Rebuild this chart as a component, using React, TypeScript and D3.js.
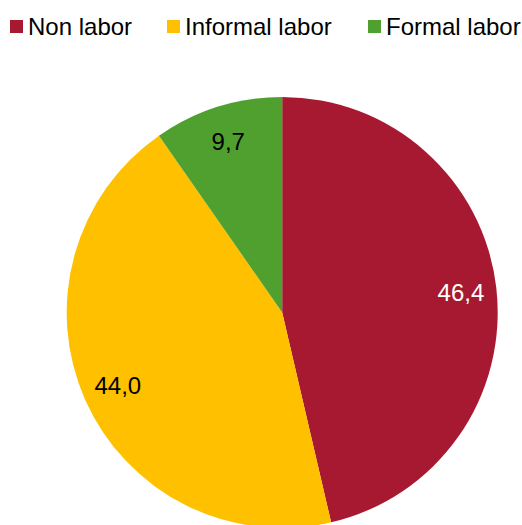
import React from "react";
import * as d3 from "d3";

const categories = ["Non labor", "Informal labor", "Formal labor"];
const values = [46.4, 44.0, 9.7];
const labels = ["46,4", "44,0", "9,7"];
const colors = ["#A71930", "#FFC000", "#50A030"];
const labelColors = ["#ffffff", "#000000", "#000000"];
const legendX = [10, 167, 368];

export default function App() {
  const W = 522, H = 525;
  const cx = 282.2, cy = 312.5, r = 215.5;
  const pie = d3.pie<number>().sort(null).value((d) => d);
  const arcs = pie(values);
  const arc = d3.arc<d3.PieArcDatum<number>>().innerRadius(0).outerRadius(r);
  const labelArc = d3.arc<d3.PieArcDatum<number>>().innerRadius(r * 0.835).outerRadius(r * 0.835);
  return (
    <svg width={W} height={H} style={{ position: "absolute", left: 0, top: 0, fontFamily: "'Liberation Sans', Arial, sans-serif" }}>
      <rect width={W} height={H} fill="#fff" />
      <g transform={`translate(${cx},${cy})`}>
        {arcs.map((a, i) => (
          <path key={i} d={arc(a) || ""} fill={colors[i]} />
        ))}
        {arcs.map((a, i) => {
          const [x, y] = labelArc.centroid(a);
          return (
            <text key={i} x={x} y={y + 8.7} textAnchor="middle" fontSize={24} fill={labelColors[i]}>
              {labels[i]}
            </text>
          );
        })}
      </g>
      {categories.map((c, i) => (
        <g key={c} transform={`translate(${legendX[i]},0)`}>
          <rect x={0} y={20} width={13} height={13} fill={colors[i]} />
          <text x={18} y={34.5} fontSize={24} fill="#000">{c}</text>
        </g>
      ))}
    </svg>
  );
}
